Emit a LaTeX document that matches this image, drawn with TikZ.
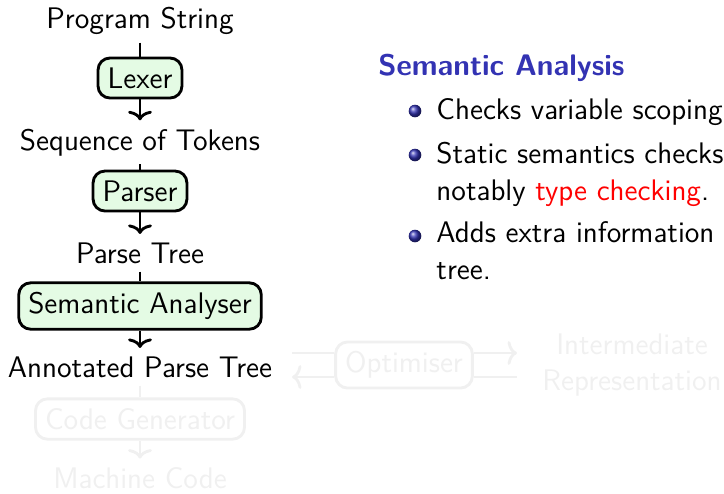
\documentclass[tikz,border=0pt]{standalone}
\usetikzlibrary{arrows.meta,shadings}

\definecolor{stagefill}{RGB}{228,251,228}
\definecolor{headblue}{RGB}{51,51,179}
\definecolor{ghost}{gray}{0.94}

\tikzset{
  stage/.style={draw, very thick, rounded corners=5pt, fill=stagefill, inner sep=4pt},
  flow/.style={very thick, -{To[length=4pt,width=10pt]}},
  feed/.style={very thick},
  later/.style={draw=ghost, text=ghost, fill=white},
  note/.style={anchor=base west, align=left, inner sep=0pt},
  bullet/.style={circle, inner sep=0pt, minimum size=5.3pt, shading=ball, ball color=headblue},
}

\begin{document}
\begin{tikzpicture}[x=0.42pt, y=-0.42pt, font=\sffamily\fontsize{12.5}{15.5}\selectfont]
  \useasboundingbox (0,0) rectangle (724,493);

  % the pipeline down the left
  \node[anchor=base] (src) at (140,28) {Program String};
  \node[stage] (lexer) at (140,78) {Lexer};
  \node[anchor=base] (tokens) at (140,150) {Sequence of Tokens};
  \node[stage] (parser) at (140,191) {Parser};
  \node[anchor=base] (ptree) at (140,263) {Parse Tree};
  \node[stage] (sema) at (140,306) {Semantic Analyser};
  \node[anchor=base] (atree) at (140,377) {Annotated Parse Tree};

  \draw[feed] (src) -- (lexer);
  \draw[flow] (lexer) -- (tokens);
  \draw[feed] (tokens) -- (parser);
  \draw[flow] (parser) -- (ptree);
  \draw[feed] (ptree) -- (sema);
  \draw[flow] (sema) -- (atree);

  % stages still to come
  \begin{scope}[every node/.style={text=ghost}]
    \node[stage, later] (codegen) at (140,419) {Code Generator};
    \node[anchor=base] (mcode) at (140,488) {Machine Code};
    \node[stage, later] (opt) at (404,365) {Optimiser};
    \node[align=center] (ir) at (632,365) {Intermediate\\Representation};
  \end{scope}
  \coordinate (optin) at (292,353);
  \coordinate (optout) at (517,353);
  \coordinate (optback) at (517,377);
  \coordinate (optret) at (292,377);
  \begin{scope}[draw=ghost]
    \draw[feed] (atree) -- (codegen);
    \draw[flow] (codegen) -- (mcode);
    \draw[feed] (optin) -- (optin -| opt.west);
    \draw[flow] (optin -| opt.east) -- (optout);
    \draw[feed] (optback) -- (optback -| opt.east);
    \draw[flow] (optret -| opt.west) -- (optret);
  \end{scope}

  % notes on the right
  \node[note, text=headblue, font=\sffamily\bfseries\fontsize{12.5}{15.5}\selectfont] (title) at (378,75) {Semantic Analysis};
  \node[note] (item1) at (436,119) {Checks variable scoping};
  \node[note] (item2) at (436,200) {Static semantics checks\\notably \textcolor{red}{type checking}.};
  \node[note] (item3) at (436,279) {Adds extra information to\\tree.};
  \node[bullet] (dot1) at (415,111) {};
  \node[bullet] (dot2) at (415,155) {};
  \node[bullet] (dot3) at (415,236) {};
\end{tikzpicture}
\end{document}
